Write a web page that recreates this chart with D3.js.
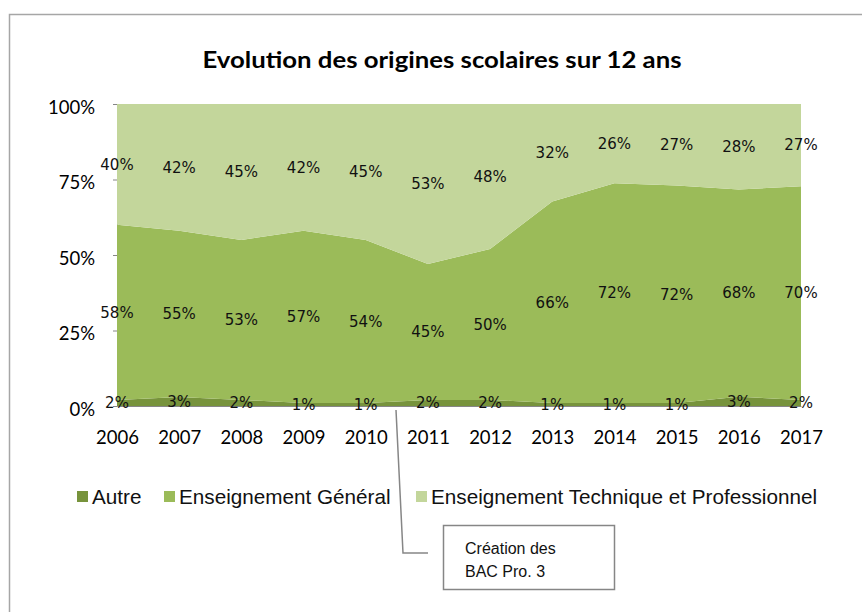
<!DOCTYPE html>
<html>
<head>
<meta charset="utf-8">
<script src="https://cdn.jsdelivr.net/npm/d3@7"></script>
<style>
  body { margin: 0; background: #fff; }
  svg { display: block; }
</style>
</head>
<body>
<svg width="862" height="612"></svg>
<script>
// data
const years = [2006, 2007, 2008, 2009, 2010, 2011, 2012, 2013, 2014, 2015, 2016, 2017];
const autre = [2, 3, 2, 1, 1, 2, 2, 1, 1, 1, 3, 2];
const general = [58, 55, 53, 57, 54, 45, 50, 66, 72, 72, 68, 70];
const technique = [40, 42, 45, 42, 45, 53, 48, 32, 26, 27, 28, 27];
const seriesNames = ["Autre", "Enseignement Général", "Enseignement Technique et Professionnel"];
const yTicks = [0, 0.25, 0.5, 0.75, 1];

const colors = ["#77933C", "#9BBB59", "#C3D69B"];
const keys = ["autre", "general", "technique"];

const rows = years.map((y, i) => ({ year: y, autre: autre[i], general: general[i], technique: technique[i] }));

const svg = d3.select("svg");

// outer chart border
svg.append("rect")
  .attr("x", 9.5).attr("y", 14.5)
  .attr("width", 900).attr("height", 700)
  .attr("fill", "none")
  .attr("stroke", "#a6a6a6")
  .attr("stroke-width", 1.5);

// title (Calibri is not there, so squeeze a bold sans to the same width)
const title = svg.append("text")
  .attr("x", 442).attr("y", 68)
  .attr("text-anchor", "middle")
  .style("font-family", "Lato, 'Open Sans', sans-serif")
  .style("font-weight", "bold")
  .style("font-size", "22px")
  .attr("fill", "#000")
  .text("Evolution des origines scolaires sur 12 ans");
title.attr("textLength", 479).attr("lengthAdjust", "spacingAndGlyphs");

const x = d3.scaleLinear().domain([2006, 2017]).range([117, 801]);
const y = d3.scaleLinear().domain([0, 1]).range([406, 104]);

const stack = d3.stack().keys(keys).offset(d3.stackOffsetExpand);
const series = stack(rows);

const area = d3.area()
  .x(d => x(d.data.year))
  .y0(d => y(d[0]))
  .y1(d => y(d[1]));

// y axis
const yAxis = svg.append("g")
  .attr("transform", "translate(117,0)")
  .call(d3.axisLeft(y).tickValues(yTicks).tickFormat(d3.format(".0%")).tickSize(4).tickPadding(18));
yAxis.select(".domain").attr("stroke", "#868686");
yAxis.selectAll(".tick line").attr("stroke", "#868686");
yAxis.selectAll("text")
  .attr("dy", "0.5em")
  .style("font-family", "Lato, sans-serif")
  .style("font-size", "18.5px")
  .attr("fill", "#000");

// x axis
const xAxis = svg.append("g")
  .attr("transform", "translate(0,406)")
  .call(d3.axisBottom(x).tickValues(years).tickFormat(d3.format("d")).tickSize(0));
xAxis.select(".domain").attr("stroke", "#868686");
xAxis.selectAll("text")
  .attr("y", 32).attr("dy", "0.35em")
  .style("font-family", "Lato, sans-serif")
  .style("font-size", "18.5px")
  .attr("fill", "#000");

// areas
svg.append("g").selectAll("path")
  .data(series)
  .join("path")
  .attr("d", area)
  .attr("fill", (d, i) => colors[i]);

// data labels
const labels = svg.append("g");
series.forEach(s => {
  labels.selectAll(null)
    .data(s)
    .join("text")
    .attr("x", d => x(d.data.year))
    .attr("y", d => y((d[0] + d[1]) / 2))
    .attr("dy", "0.35em")
    .attr("text-anchor", "middle")
    .style("font-family", "'DejaVu Sans', sans-serif")
    .style("font-size", "15px")
    .attr("fill", "#111")
    .text(d => d.data[s.key] + "%");
});

// legend
const legendX = [77, 164, 416];
const legend = svg.append("g");
seriesNames.forEach((name, i) => {
  legend.append("rect")
    .attr("x", legendX[i]).attr("y", 491)
    .attr("width", 11).attr("height", 11)
    .attr("fill", colors[i]);
  legend.append("text")
    .attr("x", legendX[i] + 15).attr("y", 497)
    .attr("dy", "0.35em")
    .style("font-family", "'Liberation Sans', Arial, sans-serif")
    .style("font-size", "20.7px")
    .attr("fill", "#111")
    .text(name);
});

// annotation leader line and box
svg.append("path")
  .attr("d", "M396,410 L403,553 L428,553")
  .attr("fill", "none")
  .attr("stroke", "#868686")
  .attr("stroke-width", 1.5);

svg.append("rect")
  .attr("x", 443.5).attr("y", 525.5)
  .attr("width", 171).attr("height", 64)
  .attr("fill", "#fff")
  .attr("stroke", "#868686")
  .attr("stroke-width", 1.5);

const note = svg.append("text")
  .style("font-family", "'Liberation Sans', Arial, sans-serif")
  .style("font-size", "16px")
  .attr("fill", "#111");
note.append("tspan").attr("x", 465).attr("y", 554).text("Création des");
note.append("tspan").attr("x", 465).attr("y", 577).text("BAC Pro. 3");
</script>
</body>
</html>
